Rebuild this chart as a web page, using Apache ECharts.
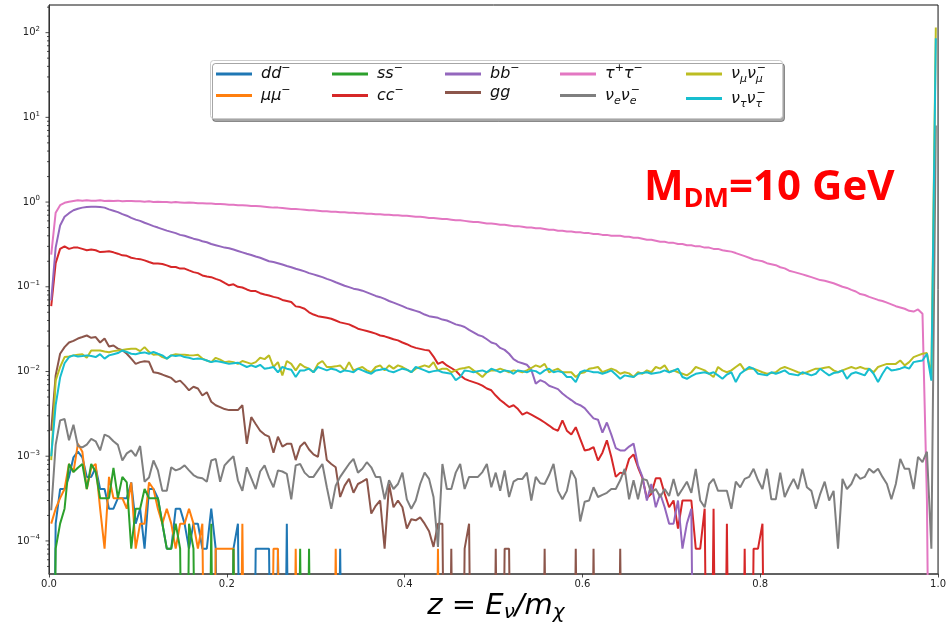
<!DOCTYPE html>
<html><head><meta charset="utf-8">
<script src="https://cdn.jsdelivr.net/npm/echarts@6/dist/echarts.min.js"></script>
<style>html,body{margin:0;padding:0;background:#fff}#c{width:949px;height:625px}</style>
</head><body><div id="c"></div>
<script>
// ---- data (bin width 0.005 in z = E_nu/m_chi) ----
const binWidth = 0.005;
const xTicks = [0, 0.2, 0.4, 0.6, 0.8, 1.0];
const yMajorExps = [-4, -3, -2, -1, 0, 1, 2];

const seriesNames = ['dd','mumu','ss','cc','bb','gg','tautau','nue','numu','nutau'];
const seriesColors = ['#1f77b4','#ff7f0e','#2ca02c','#d62728','#9467bd','#8c564b','#e377c2','#7f7f7f','#bcbd22','#17becf'];

const ddVals = [0,1.6e-4,4.1e-4,4.1e-4,5.7e-4,9.7e-4,1.13e-3,9.7e-4,5.7e-4,5.7e-4,
7.3e-4,4.1e-4,4.1e-4,2.4e-4,2.4e-4,3.2e-4,3.2e-4,3.2e-4,4.9e-4,1.6e-4,
2.4e-4,8.1e-5,4.1e-4,4.1e-4,3.2e-4,1.6e-4,8.1e-5,8.1e-5,2.4e-4,2.4e-4,
1.6e-4,8.1e-5,1.6e-4,1.6e-4,8.1e-5,8.1e-5,2.4e-4,8.1e-5,0,0,
0,8.1e-5,1.6e-4,0,0,0,8.1e-5,8.1e-5,8.1e-5,8.1e-5,
0,8.1e-5,0,1.6e-4,0,0,0,0,0,0,
0,0,0,0,0,8.1e-5,0];

const mumuVals = [1.6e-4,2.4e-4,3.2e-4,4.1e-4,8.1e-4,6.5e-4,1.4e-3,1.13e-3,4.1e-4,7.3e-4,
8.1e-4,2.4e-4,8.1e-5,5.7e-4,3.2e-4,3.2e-4,3.2e-4,2.4e-4,4.9e-4,8.1e-5,
1.6e-4,1.6e-4,4.9e-4,4.1e-4,2.4e-4,1.6e-4,2.4e-4,1.6e-4,8.1e-5,1.6e-4,
1.6e-4,2.4e-4,1.6e-4,8.1e-5,1.6e-4,0,0,8.1e-5,8.1e-5,8.1e-5,
8.1e-5,8.1e-5,0,1.6e-4,0,0,0,0,0,0,
8.1e-5,8.1e-5,0,0,0,8.1e-5,0,0,0,0,
0,0,0,0,8.1e-5,0,0,0,0,0,
0,0,0,0,0,0,0,0,0,0,
0,0,0,0,0,0,0,8.1e-5,0];

const ssVals = [0,8.1e-5,1.6e-4,2.4e-4,8.1e-4,6.5e-4,7.3e-4,8.1e-4,4.1e-4,8.1e-4,
6.5e-4,3.2e-4,3.2e-4,3.2e-4,7.3e-4,3.2e-4,5.7e-4,4.9e-4,8.1e-5,2.4e-4,
2.4e-4,4.1e-4,3.2e-4,3.2e-4,3.2e-4,1.6e-4,8.1e-5,8.1e-5,1.6e-4,8.1e-5,
0,1.6e-4,8.1e-5,0,0,0,1.6e-4,0,0,0,
0,8.1e-5,0,0,0,0,0,0,0,0,
0,0,0,0,0,0,8.1e-5,0,8.1e-5,0];

const ccVals = [.059,.19,.28,.30,.28,.29,.29,.28,.27,.275,
.27,.257,.26,.262,.255,.246,.235,.232,.22,.215,
.212,.205,.196,.188,.188,.186,.179,.171,.171,.164,
.164,.156,.149,.145,.136,.132,.13,.124,.119,.111,
.104,.107,.10,.098,.093,.089,.089,.084,.081,.079,
.076,.074,.070,.068,.066,.0587,.0576,.055,.050,.047,
.045,.044,.043,.042,.040,.038,.037,.036,.034,.032,
.031,.030,.029,.028,.0266,.026,.025,.024,.0233,.022,
.021,.0198,.019,.0185,.018,.0177,.015,.0123,.013,.0118,
.011,.0102,.009,.0082,.0078,.0075,.0072,.0068,.0063,.006,
.0052,.0046,.0042,.0038,.004,.0036,.0031,.0033,.0031,.0029,
.0027,.0025,.0023,.0021,.002,.00265,.002,.0018,.0022,.0016,
.00117,.0012,.00128,8.9e-4,.0011,.00154,9.8e-4,5.7e-4,6.4e-4,6.2e-4,
9.3e-4,1.05e-3,7.4e-4,5.5e-4,3.2e-4,3.6e-4,5.5e-4,5.5e-4,3.6e-4,2.5e-4,
3.0e-4,1.4e-4,3.0e-4,3.0e-4,3.0e-4,8.1e-5,8.1e-5,2.4e-4,0,2.4e-4,
0,0,1.6e-4,0,0,0,8.1e-5,0,8.1e-5,8.1e-5,
1.6e-4,0];

const bbVals = [.069,.29,.53,.67,.74,.80,.835,.86,.875,.88,
.88,.875,.86,.82,.79,.76,.72,.69,.65,.62,
.60,.57,.545,.52,.50,.48,.46,.445,.43,.41,
.40,.385,.37,.36,.345,.335,.32,.31,.30,.29,
.285,.275,.265,.255,.245,.237,.228,.22,.21,.20,
.196,.19,.183,.176,.17,.163,.158,.152,.145,.14,
.135,.13,.124,.119,.113,.108,.103,.099,.095,.093,
.09,.086,.082,.078,.0754,.072,.068,.065,.062,.059,
.056,.054,.052,.05,.047,.045,.044,.043,.041,.04,
.038,.036,.035,.0335,.031,.029,.027,.026,.024,.022,
.0212,.019,.018,.0162,.014,.013,.0125,.012,.0105,.0072,
.0079,.0075,.0068,.0065,.0062,.0055,.005,.0046,.0042,.004,
.0037,.0032,.0028,.0027,.0019,.0025,.0018,.00125,.00117,.00117,
.0013,.00141,7.8e-4,5.7e-4,3.0e-4,4.7e-4,2.5e-4,3.6e-4,2.5e-4,1.6e-4,
1.6e-4,3.0e-4,8.1e-5,1.6e-4,2.4e-4,0];

const ggVals = [.002,.009,.0162,.0194,.022,.023,.0245,.0255,.0266,.025,
.0255,.022,.0245,.0197,.0203,.0186,.0178,.0162,.0142,.0123,
.0129,.0132,.013,.0098,.0096,.0092,.0088,.0084,.0075,.0078,
.0069,.006,.0066,.0063,.0052,.0057,.0044,.004,.0038,.0036,
.0035,.0035,.0035,.004,.0014,.0029,.0024,.002,.0018,.0017,
.0011,.0017,.0013,.0014,.0014,9e-4,.0013,.00146,.0012,.00105,
9.8e-4,.0021,9e-4,8.1e-4,7.4e-4,3.3e-4,4.5e-4,5.4e-4,3.7e-4,4.7e-4,
5e-4,5.4e-4,2.1e-4,2.6e-4,3.0e-4,8.1e-5,4.7e-4,2.5e-4,3.0e-4,2.5e-4,
1.4e-4,1.8e-4,1.75e-4,1.9e-4,1.6e-4,1.3e-4,8.5e-5,1.6e-4,1.6e-4,0,
8.1e-5,0,0,8.1e-5,1.6e-4,0,0,0,0,0,
8.1e-5,0,8.1e-5,8.1e-5,0,0,0,0,0,0,
0,8.1e-5,0,0,0,0,0,0,8.1e-5,0,
0,0,8.1e-5,0,0,0,0,0,8.1e-5,0];

const tautauVals = [.24,.75,.92,.98,1.01,1.03,1.05,1.04,1.05,1.04,
1.04,1.05,1.03,1.04,1.03,1.04,1.02,1.03,1.03,1.02,
1.02,1.01,1.02,1.0,1.01,1.0,1.0,.99,1.0,.99,
.98,.99,.98,.97,.97,.96,.96,.95,.95,.94,
.93,.93,.92,.92,.91,.90,.90,.89,.88,.87,
.86,.86,.85,.84,.83,.83,.82,.81,.80,.80,
.79,.78,.78,.77,.77,.76,.76,.75,.75,.74,
.74,.73,.73,.72,.72,.71,.71,.70,.70,.69,
.69,.68,.67,.67,.66,.65,.65,.64,.63,.63,
.62,.61,.61,.60,.59,.58,.58,.57,.56,.56,
.55,.54,.54,.53,.52,.52,.51,.50,.50,.49,
.49,.48,.47,.47,.46,.46,.45,.45,.44,.44,
.43,.43,.42,.42,.41,.41,.40,.40,.40,.39,
.39,.38,.38,.37,.36,.36,.35,.34,.34,.33,
.33,.32,.32,.31,.31,.30,.30,.29,.29,.28,
.28,.27,.265,.26,.25,.24,.23,.22,.21,.205,
.20,.19,.185,.18,.17,.165,.155,.15,.145,.14,
.135,.13,.125,.12,.118,.114,.11,.105,.10,.097,
.092,.088,.082,.080,.076,.073,.070,.068,.065,.062,
.059,.057,.055,.052,.051,.054,.048,3e-4,0,0];

const nueVals = [2.3e-4,1.36e-3,2.65e-3,2.75e-3,1.54e-3,2.35e-3,1.32e-3,1.27e-3,1.37e-3,1.6e-3,
1.5e-3,1.17e-3,1.8e-3,1.7e-3,1.5e-3,1.36e-3,8.9e-4,1.08e-3,1.17e-3,1.0e-3,
1.32e-3,5e-4,5.6e-4,8.9e-4,6.8e-4,3.9e-4,3.9e-4,7.4e-4,6.8e-4,7.1e-4,
7.8e-4,6.8e-4,6e-4,5.6e-4,5.5e-4,5e-4,8.9e-4,9.3e-4,5e-4,7.8e-4,
8.9e-4,1.0e-3,5.2e-4,3.9e-4,7.4e-4,5.5e-4,4.1e-4,6.6e-4,7.8e-4,5.6e-4,
4.3e-4,6.8e-4,6.6e-4,6.2e-4,3.1e-4,7.8e-4,8.1e-4,6.4e-4,5.7e-4,5.7e-4,
6.8e-4,8.1e-4,4.3e-4,2.4e-4,4.5e-4,5.7e-4,6.8e-4,8.1e-4,9.3e-4,6.4e-4,
7.1e-4,8.5e-4,7.4e-4,5.7e-4,5.7e-4,3.1e-4,5.2e-4,4.1e-4,4.7e-4,6.4e-4,
3.1e-4,2.4e-4,3.0e-4,4.7e-4,6.4e-4,5.4e-4,3.3e-4,8.5e-5,8.1e-4,4.1e-4,
4.1e-4,6.4e-4,8.1e-4,4.1e-4,5.7e-4,5.7e-4,5.7e-4,6.5e-4,8.1e-4,4.3e-4,
6.4e-4,3.9e-4,6.8e-4,3.3e-4,5e-4,5.4e-4,5.4e-4,6.4e-4,3.0e-4,5.7e-4,
4.8e-4,4.7e-4,6e-4,8.1e-4,3.9e-4,3.1e-4,3.9e-4,6.8e-4,5.4e-4,1.7e-4,
2.9e-4,3.0e-4,4.3e-4,3.3e-4,3.5e-4,3.7e-4,4.1e-4,4.1e-4,5.2e-4,7.1e-4,
3.1e-4,5.2e-4,3.1e-4,5.4e-4,5.2e-4,3.7e-4,4.1e-4,3.3e-4,4.1e-4,3.4e-4,
5.4e-4,3.4e-4,4.1e-4,5e-4,3.7e-4,7.1e-4,3.0e-4,2.5e-4,4.7e-4,5.4e-4,
3.9e-4,3.9e-4,3.9e-4,2.4e-4,5e-4,4.3e-4,5.4e-4,5.7e-4,7.1e-4,5.2e-4,
4.1e-4,7.1e-4,3.1e-4,3.1e-4,6.4e-4,3.3e-4,4.3e-4,5.4e-4,4.1e-4,7.1e-4,
4.3e-4,3.9e-4,2.4e-4,3.6e-4,5e-4,3.0e-4,3.9e-4,8.1e-5,5.4e-4,4.1e-4,
4.7e-4,6.2e-4,5.4e-4,5.7e-4,7.1e-4,6.4e-4,7.1e-4,5.7e-4,4.7e-4,3.1e-4,
4.7e-4,9.3e-4,7.1e-4,7.1e-4,4.1e-4,9.8e-4,8.5e-4,1.13e-3,8.1e-5,8];

const numuVals = [.0009,.0078,.0113,.0148,.015,.0155,.0158,.016,.0145,.0177,
.0177,.0177,.0172,.0169,.0174,.0177,.0179,.0183,.0185,.0186,
.0174,.0194,.017,.0158,.016,.0148,.0142,.0155,.016,.0158,
.0158,.0156,.0155,.0158,.0142,.0135,.0129,.0145,.0138,.0129,
.0131,.0129,.0123,.0133,.0128,.0123,.0129,.0145,.014,.0155,
.0113,.0129,.009,.0133,.0123,.0103,.0123,.0113,.0108,.0098,
.0123,.0133,.0113,.0113,.0115,.0118,.0103,.0129,.0103,.0108,
.0113,.0103,.0098,.0113,.0118,.0103,.0118,.0108,.0118,.0113,
.0105,.0098,.0108,.0113,.0118,.0113,.0129,.0103,.0108,.0108,
.0098,.0103,.0108,.011,.0113,.0103,.0095,.0086,.0098,.0103,
.0103,.0108,.0103,.0098,.0103,.0101,.0098,.0103,.011,.0118,
.0113,.0123,.0098,.0103,.0108,.0098,.0098,.0098,.0086,.0095,
.0098,.0108,.011,.0113,.0098,.0103,.0108,.0103,.0094,.0098,
.0095,.0086,.0098,.0094,.0103,.0098,.0113,.0108,.0118,.0098,
.0103,.0098,.0094,.009,.0098,.0113,.0108,.0103,.0094,.0086,
.0113,.0103,.0098,.0103,.0113,.0123,.0103,.0108,.0108,.0103,
.0098,.0094,.0096,.0098,.0108,.0113,.0108,.0103,.0098,.0094,
.0098,.0103,.0108,.0108,.0111,.0113,.0103,.0098,.0103,.0108,
.0113,.0108,.0113,.0108,.0108,.0098,.0113,.0118,.0123,.0123,
.0123,.0135,.0118,.0129,.0148,.0155,.0162,.0165,.009,115];

const nutauVals = [.001,.004,.0085,.0125,.0148,.0155,.015,.0152,.0155,.0152,
.0148,.016,.0142,.0155,.016,.0165,.0177,.017,.0162,.016,
.0165,.0168,.0162,.017,.0162,.0155,.0142,.0155,.0152,.0155,
.0148,.0145,.014,.0142,.014,.0135,.0129,.0133,.013,.0127,
.0123,.0125,.0127,.012,.0113,.0118,.0113,.012,.0108,.011,
.0113,.0098,.0113,.0108,.0105,.0086,.0103,.0103,.0108,.0098,
.0113,.0108,.0103,.0108,.0105,.0098,.0103,.0101,.0098,.0108,
.0103,.0098,.0094,.0103,.0105,.0108,.0101,.0098,.0103,.0108,
.0105,.0098,.0113,.0108,.0103,.0098,.0101,.0103,.0098,.0096,
.0094,.0079,.0086,.0103,.0101,.0098,.0101,.0103,.0098,.0108,
.0103,.0098,.0103,.0101,.0094,.0103,.0101,.0098,.0103,.0101,
.0094,.0103,.0108,.0098,.0101,.0098,.0086,.0086,.0075,.0098,
.0103,.0101,.0098,.0098,.0094,.0098,.0103,.0092,.0082,.009,
.0088,.0086,.0094,.0096,.0098,.0094,.0096,.0098,.0103,.0098,
.0102,.0108,.0086,.0082,.0088,.0094,.0096,.0098,.0094,.0098,
.009,.0082,.0092,.0098,.0075,.0094,.0103,.0113,.0108,.0094,
.0092,.009,.0098,.0094,.0098,.0103,.0094,.0092,.009,.0098,
.0094,.009,.0094,.0108,.0098,.009,.0096,.0098,.0103,.0082,
.0094,.0098,.0094,.009,.0108,.0094,.0075,.0094,.0113,.0103,
.0105,.0108,.0113,.0108,.0129,.0132,.0135,.0162,.0078,86];

const seriesValues = [ddVals, mumuVals, ssVals, ccVals, bbVals, ggVals, tautauVals, nueVals, numuVals, nutauVals];

// legend layout: matplotlib ncol=5, filled column by column
const legendColumns = [['dd','mumu'],['ss','cc'],['bb','gg'],['tautau','nue'],['numu','nutau']];
const legendLabels = {
  dd: '{i|dd}{p|−}', mumu: '{i|μμ}{p|−}', ss: '{i|ss}{p|−}', cc: '{i|cc}{p|−}',
  bb: '{i|bb}{p|−}', gg: '{i|gg}', tautau: '{i|τ}{p|+}{i|τ}{p|−}',
  nue: '{i|ν}{b|e}{i|ν}{bz|e}{p|−}', numu: '{i|ν}{b|μ}{i|ν}{bz|μ}{p|−}', nutau: '{i|ν}{b|τ}{i|ν}{bz|τ}{p|−}'
};
const legendLefts = [216, 332, 445, 560, 686];

// ---- build ----
const FONT = 'DejaVu Sans';
const series = seriesNames.map((name, k) => ({
  name, type: 'line', showSymbol: false, symbol: 'none', clip: true, z: 2,
  animation: false,
  lineStyle: { width: 2, color: seriesColors[k] },
  itemStyle: { color: seriesColors[k] },
  data: seriesValues[k].map((v, i) => [(i + 0.5) * binWidth, v > 0 ? v : 1e-9])
}));

const yMin = 4.07e-5, yMax = 212;
const tickMarks = [];
for (let e = -5; e <= 2; e++) {
  for (let m = 1; m <= 9; m++) {
    const v = m * Math.pow(10, e);
    if (v >= yMin && v <= yMax) tickMarks.push([0, v, m === 1 ? 3.5 : 2]);
  }
}
series.push({
  type: 'custom', coordinateSystem: 'cartesian2d', silent: true, z: 10, clip: false, animation: false,
  data: tickMarks,
  renderItem: (params, api) => {
    const p = api.coord([0, api.value(1)]);
    const len = api.value(2);
    return { type: 'line', shape: { x1: p[0] - len, y1: p[1], x2: p[0], y2: p[1] },
      style: { stroke: '#222', lineWidth: 0.8 } };
  }
});

const legendRich = {
  i: { fontFamily: FONT, fontStyle: 'italic', fontSize: 16, lineHeight: 22, color: '#111' },
  p: { fontFamily: FONT, fontSize: 11, lineHeight: 12, verticalAlign: 'top', color: '#111' },
  b: { fontFamily: FONT, fontStyle: 'italic', fontSize: 11, lineHeight: 12, verticalAlign: 'bottom', color: '#111' },
  bz: { fontFamily: FONT, fontStyle: 'italic', fontSize: 11, lineHeight: 12, verticalAlign: 'bottom', color: '#111', width: 1 }
};

const legends = legendColumns.map((col, k) => ({
  orient: 'vertical', left: legendLefts[k], top: 63, padding: 0,
  itemWidth: 36, itemHeight: 3, itemGap: 2.5, icon: 'rect', z: 5,
  selectedMode: false,
  data: col,
  formatter: name => legendLabels[name],
  textStyle: { padding: [0, 0, 0, 4], rich: legendRich }
}));

const chart = echarts.init(document.getElementById('c'), null, { renderer: 'canvas' });
chart.setOption({
  animation: false,
  backgroundColor: '#fff',
  grid: { left: 49, right: 6, top: 5, bottom: 51, show: true, borderColor: '#111', borderWidth: 1, backgroundColor: 'transparent' },
  xAxis: {
    type: 'value', min: 0, max: 1, interval: 0.2,
    axisLine: { show: true, lineStyle: { color: '#555', width: 1.5 } },
    axisTick: { show: true, length: 3.5, lineStyle: { color: '#222', width: 0.8 } },
    axisLabel: { margin: 5, fontSize: 10, color: '#222', fontFamily: FONT, formatter: v => v.toFixed(1) },
    splitLine: { show: false }
  },
  yAxis: {
    type: 'log', logBase: 10, min: yMin, max: yMax,
    axisLine: { show: true, lineStyle: { color: '#333', width: 1 } },
    axisTick: { show: false }, minorTick: { show: false }, splitLine: { show: false },
    axisLabel: {
      margin: 9, showMinLabel: false, showMaxLabel: false,
      formatter: v => { const e = Math.round(Math.log10(v)); return '{b|10}{s|' + (e < 0 ? '−' + (-e) : e) + '}'; },
      rich: {
        b: { fontFamily: FONT, fontSize: 10, lineHeight: 14, color: '#222' },
        s: { fontFamily: FONT, fontSize: 7, lineHeight: 8, verticalAlign: 'top', color: '#222' }
      }
    }
  },
  legend: legends,
  graphic: { elements: [
    { type: 'rect', z: 3, shape: { x: 210.5, y: 60.5, width: 572, height: 58, r: 3 },
      style: { fill: '#fff', stroke: '#cccccc', lineWidth: 1, shadowColor: 'rgba(0,0,0,0.35)', shadowOffsetX: 2, shadowOffsetY: 3, shadowBlur: 0 } },
    { type: 'text', z: 6, style: {
        x: 644, y: 163, verticalAlign: 'top', align: 'left',
        text: '{m|M}{s|DM}{m|=10 GeV}',
        rich: {
          m: { fontFamily: 'Open Sans', fontWeight: 'bold', fontSize: 42, lineHeight: 50, fill: '#ff0000' },
          s: { fontFamily: 'Open Sans', fontWeight: 'bold', fontSize: 27, lineHeight: 20, verticalAlign: 'bottom', fill: '#ff0000' }
        } } },
    { type: 'text', z: 6, style: {
        x: 496, y: 589, verticalAlign: 'top', align: 'center',
        text: '{i|z = E}{s|ν}{i|/m}{s|χ}',
        rich: {
          i: { fontFamily: FONT, fontStyle: 'italic', fontSize: 29, lineHeight: 34, fill: '#000' },
          s: { fontFamily: FONT, fontStyle: 'italic', fontSize: 20, lineHeight: 20, verticalAlign: 'bottom', fill: '#000' }
        } } }
  ] },
  series
});
</script>
</body></html>
